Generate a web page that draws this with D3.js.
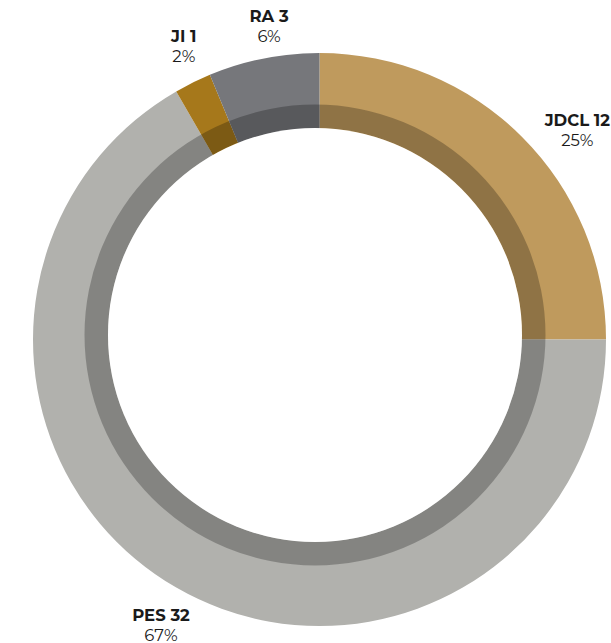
<!DOCTYPE html>
<html>
<head>
<meta charset="utf-8">
<script src="https://cdn.jsdelivr.net/npm/d3@7"></script>
<style>
  body { margin: 0; background: #fff; }
  text { font-family: Montserrat, "DejaVu Sans", sans-serif; fill: #1a1a1a; }
</style>
</head>
<body>
<div id="chart"></div>
<script>
const parties = ['JDCL', 'PES', 'JI', 'RA']
const seats = [12, 32, 1, 3]
const colors = ['#bf9a5d', '#b1b1ad', '#a6781b', '#76777b']

// small nudges for the labels, by party
const labelNudge = {
    JDCL: [28, 16],
    PES: [4, 0],
    JI: [8, -6],
    RA: [13, 1],
}

function draw(el) {
    let dimensions = {
        width: 611,
        height: 643,
    };
    const cx = 319.5, cy = 339.5
    const outer = 286.5
    const bandOuter = 230.5
    const hole = 207

    const data = parties.map((p, i) => ({ name: p, value: seats[i], color: colors[i] }))
    const total = d3.sum(seats)

    const pie = d3.pie()
        .value(d => d.value)
        .sort(null)

    const arcs = pie(data)

    const arc = d3.arc()
        .innerRadius(hole - 10)
        .outerRadius(outer)

    const svg = d3.select(el)
        .append('svg')
        .attr('width', dimensions.width)
        .attr('height', dimensions.height)

    const g = svg.append('g')
        .attr('transform', `translate(${cx}, ${cy})`)

    g.selectAll('path')
        .data(arcs)
        .join('path')
        .attr('d', arc)
        .attr('fill', d => d.data.color)

    // darker inner band, drawn a little up and left
    const band = d3.arc()
        .innerRadius(hole)
        .outerRadius(bandOuter)
        .startAngle(0)
        .endAngle(2 * Math.PI)

    svg.append('path')
        .attr('transform', `translate(${cx - 4.5}, ${cy - 4.5})`)
        .attr('d', band)
        .attr('fill', '#000')
        .attr('fill-opacity', 0.25)

    svg.append('circle')
        .attr('cx', cx - 4.5)
        .attr('cy', cy - 4.5)
        .attr('r', hole)
        .attr('fill', '#fff')

    const labelR = 325
    const labels = svg.append('g')
        .selectAll('text')
        .data(arcs)
        .join('text')
        .attr('text-anchor', 'middle')
        .attr('font-size', 16.5)
        .attr('transform', d => {
            const a = (d.startAngle + d.endAngle) / 2
            const n = labelNudge[d.data.name]
            const x = cx + Math.sin(a) * labelR + n[0]
            const y = cy - Math.cos(a) * labelR + n[1]
            return `translate(${x}, ${y})`
        })

    labels.append('tspan')
        .attr('x', 0)
        .attr('font-weight', 700)
        .text(d => `${d.data.name} ${d.data.value}`)

    labels.append('tspan')
        .attr('x', 0)
        .attr('dy', 20)
        .text(d => `${Math.round(d.data.value / total * 100)}%`)
}

draw('#chart')
</script>
</body>
</html>
